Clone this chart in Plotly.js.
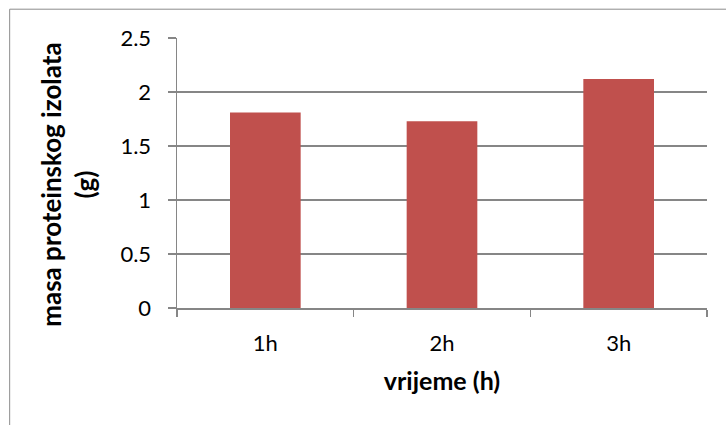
<!DOCTYPE html>
<html>
<head>
<meta charset="utf-8">
<script src="https://cdn.plot.ly/plotly-3.0.1.min.js"></script>
<style>html,body{margin:0;padding:0;background:#fff;}#chart{width:726px;height:425px;}</style>
</head>
<body>
<div id="chart"></div>
<script>
const categories = ["1h", "2h", "3h"];
const masses = [1.81, 1.73, 2.12];
const yTickVals = [0, 0.5, 1, 1.5, 2, 2.5];
const yTickText = ["0", "0.5", "1", "1.5", "2", "2.5"];
const xTitle = "vrijeme (h)";
const yTitle = "masa proteinskog izolata<br>(g)";

const W = 726, H = 425;
const M = {l: 177, r: 18.5, t: 38.3, b: 116.7};
const pw = W - M.l - M.r, ph = H - M.t - M.b;
const fontFam = "Lato, 'Open Sans', 'Liberation Sans', sans-serif";
const gridCol = "#868686";

const trace = {
  type: "bar",
  x: categories,
  y: masses,
  marker: {color: "#C0504D", line: {width: 0}},
  hoverinfo: "x+y"
};

const layout = {
  width: W, height: H,
  margin: M,
  paper_bgcolor: "#ffffff",
  plot_bgcolor: "#ffffff",
  showlegend: false,
  bargap: 0.6,
  font: {family: fontFam, color: "#000000", size: 22},
  xaxis: {
    type: "category",
    showgrid: false,
    showline: true, linecolor: gridCol, linewidth: 1.5,
    ticks: "outside", tickson: "boundaries", ticklen: 7, tickcolor: gridCol, tickwidth: 1.5,
    tickfont: {size: 22, family: fontFam},
    ticklabelstandoff: 15,
    automargin: false,
    title: {text: "<b>" + xTitle + "</b>", font: {size: 25, family: fontFam}, standoff: 17}
  },
  yaxis: {
    range: [0, 2.5],
    tickvals: yTickVals, ticktext: yTickText,
    showgrid: true, gridcolor: gridCol, gridwidth: 1.5,
    showline: true, linecolor: gridCol, linewidth: 1.5,
    zeroline: false,
    ticks: "outside", ticklen: 8, tickcolor: gridCol, tickwidth: 1.5,
    tickfont: {size: 22, family: fontFam},
    ticklabelstandoff: 12,
    automargin: false
  },
  annotations: [{
    text: "<b>" + yTitle + "</b>",
    textangle: -90,
    xref: "paper", yref: "paper",
    x: (68 - M.l) / pw, y: (H - M.b - 185) / ph,
    xanchor: "center", yanchor: "middle",
    showarrow: false,
    font: {size: 26, family: fontFam, color: "#000000"}
  }],
  shapes: [{
    type: "rect", xref: "paper", yref: "paper",
    x0: (9.5 - M.l) / pw, x1: (W + 20 - M.l) / pw,
    y0: (H - M.b - (H + 20)) / ph, y1: (H - M.b - 9.5) / ph,
    line: {color: "#8c8c8c", width: 1}, fillcolor: "rgba(0,0,0,0)", layer: "below"
  }]
};

Plotly.newPlot("chart", [trace], layout, {displayModeBar: false, staticPlot: true});
</script>
</body>
</html>
